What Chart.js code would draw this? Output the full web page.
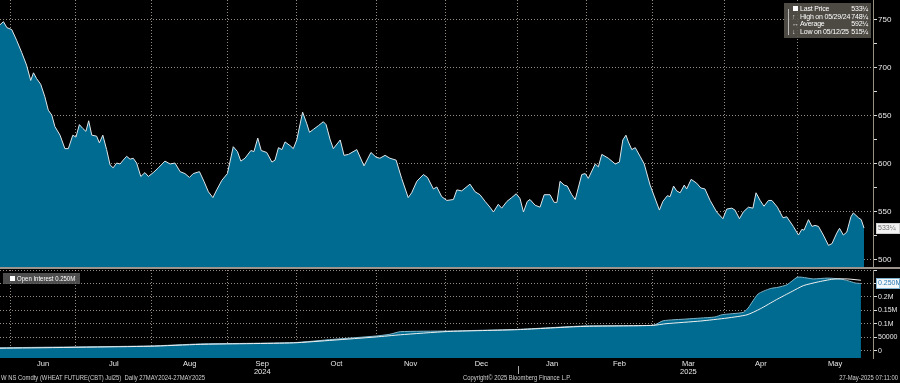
<!DOCTYPE html>
<html><head><meta charset="utf-8">
<script src="https://cdn.jsdelivr.net/npm/chart.js@4.4.1/dist/chart.umd.min.js"></script>
<style>
html,body{margin:0;padding:0;background:#000;width:900px;height:383px;overflow:hidden;font-family:"Liberation Sans",Arial,sans-serif;}
#c1{position:absolute;left:0;top:0;}
#sep{position:absolute;left:0;top:267px;width:900px;height:2px;background:#9a948c;}
#c2{position:absolute;left:0;top:269px;}
.lg{position:absolute;left:784px;top:3px;width:87px;height:35px;background:rgba(88,84,76,0.88);color:#fff;font-size:7px;line-height:8px;letter-spacing:-0.2px;}
.lg .row{position:absolute;left:16px;right:3px;height:8px;white-space:nowrap;}
.lg .row span.v{position:absolute;right:0;top:0;}
.lg .tree{position:absolute;left:4px;top:6px;width:1px;height:26px;background:#bbb;}
.lg .sq{position:absolute;left:9px;top:3px;width:5px;height:5px;background:#fff;}
.lg .ic{position:absolute;left:8px;font-size:7px;color:#ddd;}
.oi{position:absolute;left:3px;top:273px;width:77px;height:11px;background:rgba(90,90,90,0.85);color:#fff;font-size:7px;line-height:11px;}
.oi .sq{position:absolute;left:7px;top:3px;width:5px;height:5px;background:#fff;}
.oi .t{position:absolute;left:14px;top:0;white-space:nowrap;transform:scaleX(0.86);transform-origin:left center;}
.ft{position:absolute;top:374px;font-size:7px;line-height:8px;color:#d0d0d0;white-space:nowrap;transform:scaleX(0.84);}
</style></head>
<body>
<canvas id="c1" width="900" height="267"></canvas>
<div id="sep"></div>
<canvas id="c2" width="900" height="114"></canvas>

<div class="lg">
  <div class="tree"></div>
  <div class="sq"></div>
  <div class="row" style="top:2px">Last Price<span class="v">533¼</span></div>
  <div class="ic" style="top:10px">↑</div>
  <div class="row" style="top:10px">High on 05/29/24<span class="v">748¼</span></div>
  <div class="ic" style="top:17px">↔</div>
  <div class="row" style="top:17px">Average<span class="v">592¼</span></div>
  <div class="ic" style="top:25px">↓</div>
  <div class="row" style="top:25px">Low on 05/12/25<span class="v">515¼</span></div>
</div>
<div class="oi"><div class="sq"></div><div class="t">Open Interest 0.250M</div></div>
<div class="ft" style="left:1px;transform-origin:left center">W NS Comdty (WHEAT FUTURE(CBT) Jul25)&nbsp; Daily 27MAY2024-27MAY2025</div>
<div class="ft" style="left:463px;transform-origin:left center">Copyright© 2025 Bloomberg Finance L.P.</div>
<div class="ft" style="right:2px;transform-origin:right center">27-May-2025 07:11:00</div>

<script>
// ---- data (x = trading-day index from 28 May 2024) ----
const priceDay = [0,1,2,3.4,4.8,6.3,7.7,8.9,9.7,10.6,11.8,13,14,15,15.9,17.4,18.8,19.8,21.1,22,23,24,24.9,25.7,26.6,28,28.8,29.8,30.9,31.9,32.8,33.8,34.8,35.7,36.7,37.7,38.6,39.6,40.8,42,43,44.4,45.9,47.8,49.3,50.7,52.2,53.6,54.9,56,57.8,59.1,60.4,61.7,62.8,64.3,65.9,67.6,68.8,69.8,71,72.7,73.6,74.7,75.7,77.3,78.8,79.7,80.7,81.7,82.6,84.1,85,86,87.7,88.9,89.7,90.8,92.3,93.7,94.5,95.7,96.6,98.6,99.7,101,103.4,105.5,107.5,109,110.1,111.6,113,114.8,116.4,118.3,119.3,120.8,122.7,123.9,125.6,126.6,128,129.5,131.4,132.4,133.8,136.2,137.7,139.1,140.6,142,143,144.4,145.4,146.9,148.3,149.6,150.7,151.7,152.8,153.6,155.1,156.5,157.7,159.4,160.6,161.4,162.3,163.5,164.4,165.7,166.7,168.6,169.6,170.5,172.5,173.4,174.4,176.3,178.3,179.5,180.5,181.4,182.1,183.1,184.1,185.5,186.7,188.4,191.1,192.1,193.4,194.2,195.2,196.1,197.1,198.3,199,200.3,201.9,203.1,204.3,205.8,207.7,209.5,210.6,212.1,213,214.3,215.4,216.9,218.2,219.1,220.3,221.4,222.7,223.7,225.3,226.9,228,229.9,231.4,232.4,233,234.3,235.3,236.2,237.2,238.6,240.1,241.1,242.5,243.3,244.4,245.4,246.6,247.3,248.8,249.6,250.4];
const priceValue = [745,748.25,742,740,729,716,703,687,695,689,683,670,656,651,639,630,616,616,630,628,641,637,634,645,630,629,622,630,615,599,596,601,600,604,608,605,606,601,587,591,587,591,596,603,600,601,592,590,586,590,592,582,571,565,573,583,590,618,613,603,606,614,613,627,614,612,602,604,617,615,623,619,616,625,654,642,633,636,640,644,641,625,616,625,609,610,615,598,612,607,606,609,606,604,585,565,570,582,589,586,574,576,566,562,563,573,572,579,571,568,561,555,550,558,554,561,565,569,564,550,561,563,557,555,568,568,560,560,582,578,577,568,563,589,590,585,600,597,610,606,600,602,625,630,623,615,617,608,600,578,552,561,567,566,577,572,570,578,574,584,580,575,574,562,550,543,553,554,552,543,550,555,554,570,562,556,562,562,555,544,545,535,526,532,531,542,535,536,535,526,515.25,517,528,533,526,529,545,549,544,542,533.25];

const oiDay = [0,43.5,58,85,96.5,109,113,116,129.6,150,169,189.3,192.2,199.1,203,207.2,209.3,215.4,216.8,219.7,223.2,225.5,228.1,231,232.5,235.7,239.7,243.5,245.8,247.8,249.5];
const oiValue = [12000,18500,26000,31000,43000,55500,62000,71500,74000,80000,92500,95000,112000,118500,122000,126000,134500,143000,159000,211000,231000,236000,245500,273000,273000,267000,270000,267000,260000,252000,250000];
const oiAvgDay = [0,43.5,58,85,96.5,109,116,129.6,150,169,189.3,193,203,210.7,216.5,220.3,225,229.6,232.8,236.8,241.4,245.5,249.5];
const oiAvgValue = [10000,17500,24500,30000,40000,52000,60000,72000,79000,91000,95000,101000,111000,122000,134000,156000,190000,221000,242000,255000,266000,267000,262000];

const monthStartDay = [3,22,44,66,86,109,129,150,170,189,210,231];
const monthLabel = ['Jun','Jul','Aug',['Sep','2024'],'Oct','Nov','Dec','Jan','Feb',['Mar','2025'],'Apr','May'];
const yearStartDay = [150];
const lastDayAxis = 253;

const priceTicks = [500,525,550,575,600,625,650,675,700,725,750];
const priceTickLabel = ['500','','550','','600','','650','','700','','750'];
const oiTicks = [0,50000,100000,150000,200000,250000,300000];
const oiTickLabel = ['0','50000','0.1M','0.15M','0.2M','',''];

const lastPrice = 533.25, lastPriceText = '533¼';
const lastOI = 250000, lastOIText = '0.250M';

// ---- styling ----
const FONT = '"Liberation Sans",Arial,sans-serif';
Chart.defaults.font.family = FONT;
Chart.defaults.font.size = 8;
Chart.defaults.color = '#e0e0e0';
const FILL = '#006b90';
const GRID = 'rgba(255,240,220,0.58)';

const toPts = (xs, ys) => xs.map((x, i) => ({x, y: ys[i]}));
const mids = monthStartDay.map((d, i) => (d + (i + 1 < monthStartDay.length ? monthStartDay[i+1] : lastDayAxis)) / 2);
const noPad = s => { s.paddingTop = 0; s.paddingBottom = 0; s.paddingLeft = 0; s.paddingRight = 0; };

const tagPlugin = {
  id: 'tag',
  afterDraw(chart, args, o) {
    const ys = chart.scales.y, ca = chart.chartArea, ctx = chart.ctx;
    const y = Math.round(ys.getPixelForValue(o.value));
    const x = ca.right + 3;
    ctx.save();
    ctx.fillStyle = o.bg; ctx.fillRect(x, y - 5, 24, 11);
    ctx.strokeStyle = o.border; ctx.lineWidth = 1; ctx.strokeRect(x + 0.5, y - 4.5, 23, 10);
    ctx.fillStyle = o.color; ctx.font = '7px ' + FONT; ctx.textBaseline = 'middle';
    ctx.fillText(o.text, x + 2, y + 0.5);
    ctx.restore();
  }
};
const yearTickPlugin = {
  id: 'yeartick',
  afterDraw(chart) {
    const xs = chart.scales.x, ca = chart.chartArea, ctx = chart.ctx;
    ctx.save(); ctx.strokeStyle = '#aaa'; ctx.lineWidth = 1;
    yearStartDay.forEach(d => {
      const px = Math.round(xs.getPixelForValue(d)) + 0.5;
      ctx.beginPath(); ctx.moveTo(px, ca.bottom + 8); ctx.lineTo(px, ca.bottom + 16); ctx.stroke();
    });
    ctx.restore();
  }
};

const baseX = (withLabels) => ({
  type: 'linear', min: 0, max: lastDayAxis, z: 1, display: true,
  afterBuildTicks: s => {
    const t = [];
    monthStartDay.forEach((d, i) => { t.push({value: d}); if (withLabels) t.push({value: mids[i]}); });
    s.ticks = t;
  },
  afterFit: s => { s.height = withLabels ? 25 : 0; noPad(s); },
  grid: {
    color: c => (withLabels && c.index % 2 === 1) ? 'rgba(0,0,0,0)' : GRID,
    drawTicks: false, lineWidth: 1
  },
  border: {display: false, dash: [1, 2]},
  ticks: {
    display: withLabels, autoSkip: false, maxRotation: 0, padding: 2,
    font: {size: 7.5, lineHeight: 1.1}, color: '#e8e8e8',
    callback: (v, i) => (i % 2 === 1) ? monthLabel[(i - 1) / 2] : ''
  }
});

// ---- price chart ----
new Chart(document.getElementById('c1'), {
  type: 'line',
  data: {datasets: [{
    data: toPts(priceDay, priceValue),
    borderColor: '#dfe6ea', borderWidth: 1, backgroundColor: FILL,
    fill: 'start', pointRadius: 0, tension: 0
  }]},
  options: {
    responsive: false, animation: false, events: [],
    layout: {padding: 0},
    plugins: {legend: {display: false}, tooltip: {enabled: false},
      tag: {value: lastPrice, text: lastPriceText, bg: '#f2f2f2', border: '#cfcfcf', color: '#707070'}},
    scales: {
      x: baseX(false),
      y: {
        position: 'right', min: 492.7, max: 770.8, z: 1,
        afterBuildTicks: s => { s.ticks = priceTicks.map(v => ({value: v})); },
        afterFit: s => { s.width = 27; noPad(s); },
        grid: {
          color: c => (c.tick && c.tick.value % 50 === 0) ? GRID : 'rgba(0,0,0,0)',
          tickColor: '#dcdcdc', tickLength: 4, drawTicks: true
        },
        border: {display: true, color: 'rgba(255,240,220,0.6)', dash: [1, 2]},
        ticks: {padding: 1, color: '#e8e8e8', font: {size: 8},
          callback: (v, i) => priceTickLabel[i]}
      }
    }
  },
  plugins: [tagPlugin]
});

// ---- open interest chart ----
new Chart(document.getElementById('c2'), {
  type: 'line',
  data: {datasets: [
    {data: toPts(oiAvgDay, oiAvgValue), borderColor: '#f0f0f0', borderWidth: 1,
     fill: false, pointRadius: 0, tension: 0.2},
    {data: toPts(oiDay, oiValue), borderColor: '#7fb3c8', borderWidth: 1, backgroundColor: FILL,
     fill: 'start', pointRadius: 0, tension: 0.2}
  ]},
  options: {
    responsive: false, animation: false, events: [],
    layout: {padding: {top: 1, left: 0, right: 0, bottom: 0}},
    plugins: {legend: {display: false}, tooltip: {enabled: false},
      tag: {value: lastOI, text: lastOIText, bg: '#f4f8fb', border: '#7fb3d0', color: '#2b78b0'}},
    scales: {
      x: baseX(true),
      y: {
        position: 'right', min: -26000, max: 300000, z: 1,
        afterBuildTicks: s => { s.ticks = oiTicks.map(v => ({value: v})); },
        afterFit: s => { s.width = 27; noPad(s); },
        grid: {color: GRID, tickColor: '#dcdcdc', tickLength: 4, drawTicks: true},
        border: {display: true, color: 'rgba(255,240,220,0.6)', dash: [1, 2]},
        ticks: {padding: 1, color: '#e8e8e8', font: {size: 7},
          callback: (v, i) => oiTickLabel[i]}
      }
    }
  },
  plugins: [tagPlugin, yearTickPlugin]
});
</script>
</body></html>
